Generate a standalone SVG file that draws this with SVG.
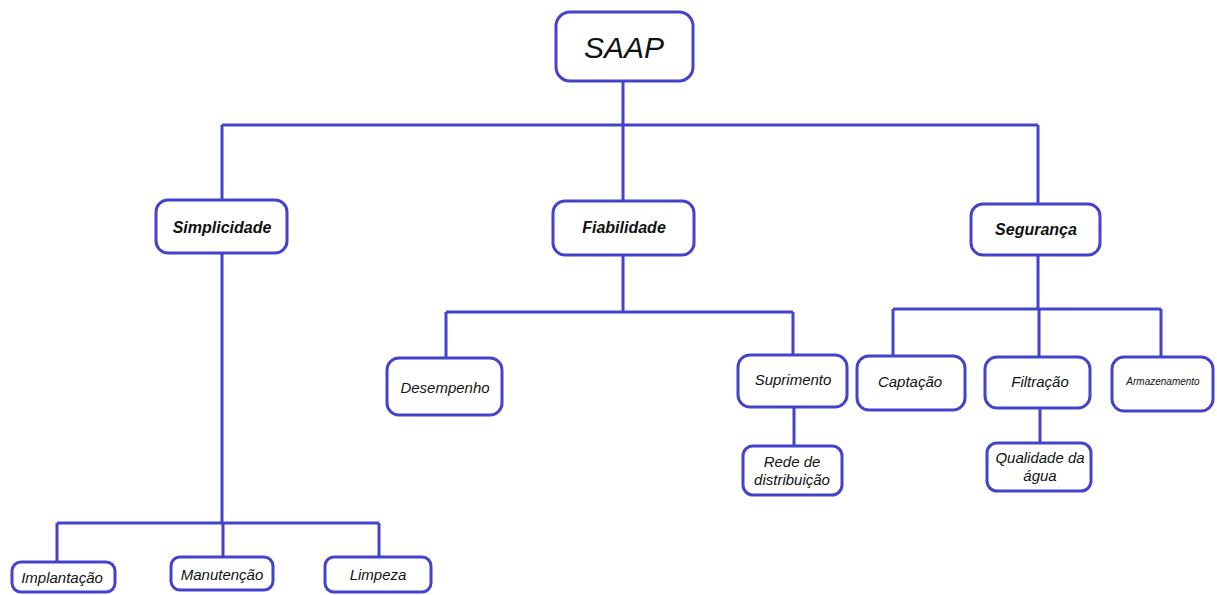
<svg xmlns="http://www.w3.org/2000/svg" width="1217" height="595" viewBox="0 0 1217 595">
<style>
.n{fill:#fff;stroke:#4343cc;stroke-width:3}
.c{fill:none;stroke:#4343cc;stroke-width:3}
text{font-family:"Liberation Sans",Arial,sans-serif;font-style:italic;fill:#111;text-anchor:middle}
.b{font-weight:bold;font-size:16px}
.s{font-size:15px}
</style>
<rect width="1217" height="595" fill="#fff"/>
<g id="connectors">
<path class="c" d="M623 81V125M222 125H1038M222 125V200M623 125V201M1038 125V204"/>
<path class="c" d="M222 253V523M57 523H379M57 523V562M223 523V557M379 523V557"/>
<path class="c" d="M623 255V312M446 312H793M446 312V358M793 312V355M794 407V446"/>
<path class="c" d="M1038 255V309M893 309H1161M893 309V356M1039 309V357M1161 309V357M1040 408V443"/>
</g>
<g id="n-saap"><rect class="n" x="556" y="12" width="137" height="69" rx="14"/><text x="624" y="58" style="font-size:30px">SAAP</text></g>
<g id="n-simplicidade"><rect class="n" x="156" y="200" width="131" height="53" rx="12"/><text class="b" x="222" y="233">Simplicidade</text></g>
<g id="n-fiabilidade"><rect class="n" x="553" y="201" width="141" height="54" rx="12"/><text class="b" x="624" y="233">Fiabilidade</text></g>
<g id="n-seguranca"><rect class="n" x="971" y="204" width="129" height="51" rx="12"/><text class="b" x="1036" y="235">Segurança</text></g>
<g id="n-implantacao"><rect class="n" x="12" y="562" width="103" height="30" rx="9"/><text class="s" x="62" y="583">Implantação</text></g>
<g id="n-manutencao"><rect class="n" x="171" y="557" width="102" height="33" rx="9"/><text class="s" x="222" y="580">Manutenção</text></g>
<g id="n-limpeza"><rect class="n" x="325" y="557" width="106" height="35" rx="9"/><text class="s" x="378" y="580">Limpeza</text></g>
<g id="n-desempenho"><rect class="n" x="387" y="358" width="115" height="57" rx="12"/><text class="s" x="445" y="393">Desempenho</text></g>
<g id="n-suprimento"><rect class="n" x="738" y="355" width="109" height="52" rx="12"/><text class="s" x="793" y="385">Suprimento</text></g>
<g id="n-rede"><rect class="n" x="743" y="446" width="99" height="49" rx="10"/><text class="s" x="792" y="467">Rede de</text><text class="s" x="792" y="485">distribuição</text></g>
<g id="n-captacao"><rect class="n" x="857" y="356" width="108" height="54" rx="12"/><text class="s" x="910" y="387">Captação</text></g>
<g id="n-filtracao"><rect class="n" x="985" y="357" width="105" height="51" rx="12"/><text class="s" x="1040" y="387">Filtração</text></g>
<g id="n-armazenamento"><rect class="n" x="1112" y="357" width="101" height="54" rx="12"/><text x="1163" y="385" style="font-size:10px">Armazenamento</text></g>
<g id="n-qualidade"><rect class="n" x="987" y="443" width="104" height="48" rx="10"/><text class="s" x="1040" y="463">Qualidade da</text><text class="s" x="1040" y="481">água</text></g>
</svg>
